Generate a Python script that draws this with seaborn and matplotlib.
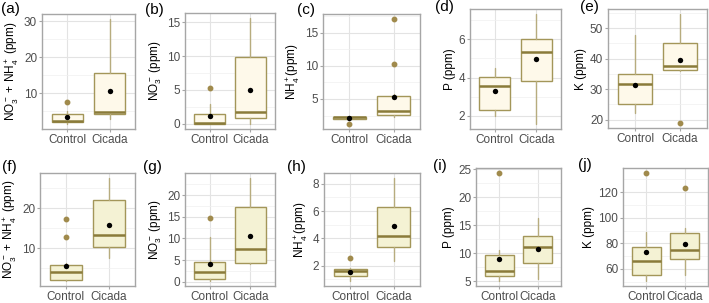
import matplotlib
matplotlib.use("Agg")
import matplotlib.pyplot as plt
import seaborn as sns
from matplotlib.ticker import FixedLocator, MultipleLocator

# Panel labels, axis titles and tick marks
panel_tags = ['(a)', '(b)', '(c)', '(d)', '(e)', '(f)', '(g)', '(h)', '(i)', '(j)']
y_titles = [
    r'NO$_3^-$ + NH$_4^+$ (ppm)', r'NO$_3^-$ (ppm)', r'NH$_4^+$(ppm)', 'P (ppm)', 'K (ppm)',
    r'NO$_3^-$ + NH$_4^+$ (ppm)', r'NO$_3^-$ (ppm)', r'NH$_4^+$(ppm)', 'P (ppm)', 'K (ppm)',
]
y_ticks = [
    [0, 10, 20, 30], [0, 5, 10, 15], [5, 10, 15], [2, 4, 6], [20, 30, 40, 50],
    [10, 20], [0, 5, 10, 15, 20], [2, 4, 6, 8], [5, 10, 15, 20, 25], [60, 80, 100, 120],
]
groups = ['Control', 'Cicada']

# Box statistics, one entry per panel (a..j)
ctrl_lo = [1.5, 0.0, 2.0, 2.0, 22.0, 1.9, 0.2, 0.9, 5.1, 50.8]
ctrl_q1 = [2.1, 0.0, 2.0, 2.33, 25.0, 2.13, 0.67, 1.22, 6.0, 54.9]
ctrl_med = [2.4, 0.08, 2.2, 3.57, 31.6, 4.2, 2.3, 1.62, 6.8, 66.1]
ctrl_q3 = [4.2, 1.5, 2.3, 4.02, 35.0, 5.9, 4.6, 1.76, 9.65, 77.3]
ctrl_hi = [5.0, 2.9, 2.35, 4.52, 47.9, 6.3, 10.4, 1.85, 10.6, 89.2]
ctrl_mean = [3.3, 1.08, 2.1, 3.32, 31.4, 5.7, 4.0, 1.55, 8.9, 73.0]
ctrl_out = [[7.5], [5.3], [1.25], [], [], [12.9, 17.4], [14.8], [2.6], [24.3], [134.8]]

cic_lo = [2.9, 0.0, 2.25, 1.6, 35.8, 7.6, 4.1, 2.35, 5.4, 55.2]
cic_q1 = [4.2, 0.83, 2.65, 3.81, 36.1, 10.3, 4.4, 3.37, 8.2, 67.8]
cic_med = [4.8, 1.8, 3.2, 5.32, 37.5, 13.3, 7.65, 4.17, 11.05, 74.7]
cic_q3 = [15.6, 9.8, 5.45, 6.02, 45.0, 22.0, 17.25, 6.31, 13.0, 88.4]
cic_hi = [30.5, 15.6, 5.7, 7.3, 54.5, 27.5, 23.9, 8.4, 16.4, 91.8]
cic_mean = [10.5, 5.0, 5.35, 4.95, 39.6, 15.7, 10.6, 4.9, 10.8, 79.3]
cic_out = [[], [], [10.3, 17.05], [], [19.0], [], [], [], [], [123.0]]

# Axes rectangles in pixels: left, top, right, bottom
W, H = 709, 303
boxes_px = [
    (42, 14, 135, 129), (185, 13, 275, 129), (323, 14, 420, 129), (470, 9, 561, 129), (608, 9, 707, 128),
    (40, 173, 135, 286), (185, 173, 275, 286), (324, 173, 420, 286), (476, 168, 561, 286), (623, 168, 708, 286),
]
tag_px = [(1, 9), (145, 10), (297, 10), (435, 7), (580, 7),
          (2, 167), (143, 167), (287, 167), (433, 166), (578, 165)]

sns.set_theme(style="whitegrid")
plt.rcParams['font.family'] = ['Liberation Sans', 'DejaVu Sans']
plt.rcParams['mathtext.fontset'] = 'custom'
plt.rcParams['mathtext.rm'] = 'Liberation Sans'
plt.rcParams['mathtext.it'] = 'Liberation Sans:italic'

edge = '#A39659'
med_col = '#8A7B3A'
whisk = '#B7AC7E'
out_col = '#A08A4C'
border = '#A6A6A6'

fig = plt.figure(figsize=(W / 100, H / 100), dpi=100)

for i in range(10):
    l, t, r, b = boxes_px[i]
    ax = fig.add_axes([l / W, 1 - b / H, (r - l) / W, (b - t) / H])
    fill = '#FEF9EA' if i < 5 else '#F4F2D4'

    stats = [
        dict(whislo=ctrl_lo[i], q1=ctrl_q1[i], med=ctrl_med[i], q3=ctrl_q3[i],
             whishi=ctrl_hi[i], fliers=ctrl_out[i], label=groups[0]),
        dict(whislo=cic_lo[i], q1=cic_q1[i], med=cic_med[i], q3=cic_q3[i],
             whishi=cic_hi[i], fliers=cic_out[i], label=groups[1]),
    ]
    ax.bxp(stats, positions=[1, 2], widths=0.75, patch_artist=True,
           boxprops=dict(facecolor=fill, edgecolor=edge, linewidth=1.0),
           medianprops=dict(color=med_col, linewidth=1.8),
           whiskerprops=dict(color=whisk, linewidth=1.0),
           capprops=dict(linewidth=0),
           flierprops=dict(marker='o', markerfacecolor=out_col, markeredgecolor=out_col,
                           markersize=3.2),
           zorder=2)
    sns.scatterplot(x=[1, 2], y=[ctrl_mean[i], cic_mean[i]], color='black', s=15,
                    edgecolor='black', linewidth=0, ax=ax, zorder=4)

    allv = [ctrl_lo[i], ctrl_hi[i], cic_lo[i], cic_hi[i]] + ctrl_out[i] + cic_out[i]
    lo, hi = min(allv), max(allv)
    pad = (hi - lo) * 0.05
    ax.set_ylim(lo - pad, hi + pad)
    ax.set_xlim(0.4, 2.6)

    ticks = y_ticks[i]
    step = ticks[1] - ticks[0]
    ax.yaxis.set_major_locator(FixedLocator(ticks))
    ax.yaxis.set_minor_locator(MultipleLocator(step / 2))
    ax.set_xticks([1, 2])
    ax.set_xticklabels(groups)

    ax.grid(True, which='major', color='#E3E3E3', linewidth=0.8)
    ax.grid(True, which='minor', axis='y', color='#F0F0F0', linewidth=0.5)
    ax.set_axisbelow(True)
    for sp in ax.spines.values():
        sp.set_visible(True)
        sp.set_color(border)
        sp.set_linewidth(1.0)

    ax.tick_params(axis='both', which='major', length=2.5, width=0.8, color=border,
                   labelsize=8.5, labelcolor='#4D4D4D', pad=1, direction='out',
                   bottom=True, left=True)
    ax.tick_params(axis='y', which='minor', length=0)
    ax.set_xlabel('')
    ax.set_ylabel(y_titles[i], fontsize=8.5, color='black', labelpad=2)

    fig.text(tag_px[i][0] / W, 1 - tag_px[i][1] / H, panel_tags[i],
             fontsize=11, ha='left', va='center', color='black')

fig.savefig('out.png', dpi=100)
